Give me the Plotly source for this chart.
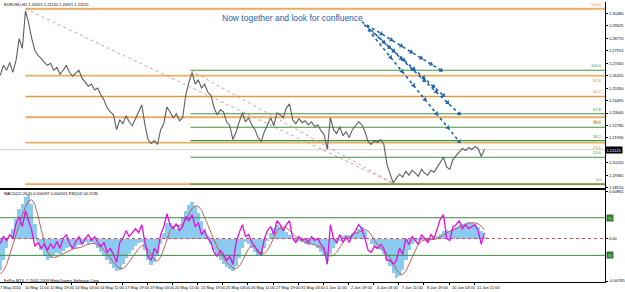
import numpy as np
import plotly.graph_objects as go

# ---------------- data ----------------
# EURUSD H1 close, sampled every 4 bars (bar index = 5 + 4*i)
price = [
    1.2624, 1.2692, 1.2658, 1.2712, 1.2644, 1.2726, 1.2876, 1.2808, 1.3066, 1.2984,
    1.2876, 1.2794, 1.2760, 1.2740, 1.2712, 1.2692, 1.2706, 1.2658, 1.2678, 1.2631,
    1.2658, 1.2692, 1.2644, 1.2617, 1.2638, 1.2658, 1.2604, 1.2576, 1.2549, 1.2563,
    1.2522, 1.2536, 1.2488, 1.2454, 1.2400, 1.2372, 1.2352, 1.2250, 1.2318, 1.2291,
    1.2345, 1.2304, 1.2277, 1.2325, 1.2372, 1.2420, 1.2284, 1.2182, 1.2155, 1.2175,
    1.2148, 1.2250, 1.2291, 1.2406, 1.2372, 1.2332, 1.2359, 1.2311, 1.2332, 1.2488,
    1.2576, 1.2644, 1.2563, 1.2590, 1.2536, 1.2563, 1.2508, 1.2488, 1.2400, 1.2352,
    1.2386, 1.2372, 1.2304, 1.2277, 1.2182, 1.2236, 1.2304, 1.2366, 1.2304, 1.2332,
    1.2284, 1.2250, 1.2196, 1.2168, 1.2236, 1.2284, 1.2332, 1.2277, 1.2366, 1.2352,
    1.2332, 1.2400, 1.2427, 1.2318, 1.2291, 1.2325, 1.2298, 1.2311, 1.2284, 1.2304,
    1.2270, 1.2284, 1.2243, 1.2216, 1.2114, 1.2332, 1.2250, 1.2223, 1.2270, 1.2209,
    1.2236, 1.2196, 1.2250, 1.2277, 1.2304, 1.2284, 1.2236, 1.2168, 1.2148, 1.2175,
    1.2162, 1.2182, 1.2148, 1.2012, 1.1951, 1.1883, 1.1917, 1.1944, 1.1924, 1.1964,
    1.1937, 1.1971, 1.1951, 1.1930, 1.1978, 1.1951, 1.1937, 1.1971, 1.1958, 1.1992,
    1.2032, 1.2060, 1.1992, 1.1978, 1.2046, 1.2073, 1.2100, 1.2121, 1.2107, 1.2128,
    1.2114, 1.2134, 1.2121, 1.2066, 1.2113,
]
macd = [
    -0.00586, -0.00403, -0.00183, 0.00000, 0.00183, 0.00366, 0.00549, 0.00641, 0.00769, 0.00824,
    0.00641, 0.00275, -0.00037, -0.00220, -0.00329, -0.00403, -0.00366, -0.00311, -0.00275, -0.00293,
    -0.00238, -0.00183, -0.00165, -0.00201, -0.00183, -0.00128, -0.00110, -0.00073, -0.00110, -0.00073,
    -0.00110, -0.00183, -0.00256, -0.00329, -0.00403, -0.00476, -0.00549, -0.00604, -0.00586, -0.00476,
    -0.00366, -0.00293, -0.00220, -0.00146, -0.00092, -0.00073, -0.00220, -0.00403, -0.00494, -0.00439,
    -0.00329, -0.00110, 0.00110, 0.00293, 0.00293, 0.00220, 0.00183, 0.00256, 0.00403, 0.00512,
    0.00622, 0.00677, 0.00604, 0.00476, 0.00329, 0.00183, 0.00037, -0.00110, -0.00220, -0.00329,
    -0.00403, -0.00476, -0.00531, -0.00567, -0.00604, -0.00512, -0.00366, -0.00183, -0.00073, -0.00110,
    -0.00183, -0.00256, -0.00311, -0.00329, -0.00183, -0.00037, 0.00110, 0.00201, 0.00256, 0.00220,
    0.00183, 0.00128, 0.00073, 0.00000, -0.00037, -0.00055, -0.00073, -0.00110, -0.00128, -0.00110,
    -0.00128, -0.00183, -0.00256, -0.00329, -0.00421, -0.00293, -0.00183, -0.00110, -0.00037, 0.00037,
    0.00073, 0.00073, 0.00092, 0.00128, 0.00183, 0.00220, 0.00146, 0.00000, -0.00110, -0.00165,
    -0.00201, -0.00220, -0.00293, -0.00403, -0.00512, -0.00641, -0.00732, -0.00695, -0.00586, -0.00403,
    -0.00220, -0.00110, -0.00055, -0.00018, -0.00018, -0.00018, -0.00037, -0.00018, 0.00000, 0.00037,
    0.00092, 0.00146, 0.00165, 0.00146, 0.00183, 0.00220, 0.00256, 0.00275, 0.00293, 0.00311,
    0.00293, 0.00256, 0.00220, 0.00146, 0.00010,
]
signal = [
    -0.00650, -0.00600, -0.00480, -0.00290, -0.00100, 0.00092, 0.00275, 0.00435, 0.00581, 0.00696,
    0.00719, 0.00627, 0.00418, 0.00165, -0.00078, -0.00247, -0.00330, -0.00352, -0.00339, -0.00311,
    -0.00279, -0.00247, -0.00217, -0.00197, -0.00183, -0.00169, -0.00156, -0.00124, -0.00105, -0.00092,
    -0.00092, -0.00119, -0.00156, -0.00220, -0.00293, -0.00366, -0.00439, -0.00508, -0.00554, -0.00554,
    -0.00508, -0.00430, -0.00339, -0.00256, -0.00188, -0.00133, -0.00133, -0.00197, -0.00298, -0.00389,
    -0.00416, -0.00343, -0.00192, -0.00009, 0.00149, 0.00229, 0.00247, 0.00238, 0.00266, 0.00339,
    0.00448, 0.00554, 0.00604, 0.00595, 0.00522, 0.00398, 0.00256, 0.00110, -0.00028, -0.00156,
    -0.00266, -0.00357, -0.00435, -0.00494, -0.00545, -0.00554, -0.00512, -0.00416, -0.00284, -0.00183,
    -0.00137, -0.00156, -0.00215, -0.00270, -0.00270, -0.00215, -0.00110, 0.00023, 0.00133, 0.00197,
    0.00215, 0.00197, 0.00151, 0.00096, 0.00041, -0.00005, -0.00041, -0.00069, -0.00092, -0.00105,
    -0.00119, -0.00137, -0.00169, -0.00224, -0.00297, -0.00325, -0.00307, -0.00252, -0.00156, -0.00073,
    -0.00009, 0.00037, 0.00069, 0.00092, 0.00119, 0.00156, 0.00169, 0.00137, 0.00064, -0.00032,
    -0.00119, -0.00174, -0.00220, -0.00279, -0.00357, -0.00462, -0.00572, -0.00645, -0.00663, -0.00604,
    -0.00476, -0.00330, -0.00197, -0.00101, -0.00050, -0.00027, -0.00023, -0.00023, -0.00018, -0.00005,
    0.00028, 0.00069, 0.00110, 0.00137, 0.00160, 0.00178, 0.00206, 0.00234, 0.00261, 0.00284,
    0.00293, 0.00289, 0.00270, 0.00229, 0.00160,
]
rsi = [
    42.6, 50.0, 45.8, 52.1, 47.9, 63.7, 71.1, 60.5, 77.4, 66.8,
    56.3, 39.5, 43.7, 37.4, 41.6, 35.3, 42.6, 37.4, 44.7, 37.4,
    47.9, 52.1, 42.6, 37.4, 44.7, 50.0, 41.6, 47.9, 52.1, 45.8,
    50.0, 43.7, 39.5, 43.7, 33.2, 37.4, 31.1, 22.6, 43.7, 47.9,
    56.3, 50.0, 54.2, 58.4, 54.2, 62.6, 43.7, 28.9, 24.7, 37.4,
    32.1, 52.1, 60.5, 74.2, 62.6, 58.4, 63.7, 56.3, 60.5, 71.1,
    66.8, 73.2, 60.5, 64.7, 52.1, 56.3, 47.9, 43.7, 33.2, 28.9,
    35.3, 31.1, 24.7, 28.9, 20.5, 43.7, 54.2, 62.6, 50.0, 52.1,
    43.7, 39.5, 33.2, 31.1, 47.9, 56.3, 60.5, 52.1, 66.8, 62.6,
    56.3, 62.6, 66.8, 47.9, 43.7, 50.0, 45.8, 47.9, 43.7, 50.0,
    45.8, 47.9, 41.6, 37.4, 20.5, 62.6, 47.9, 43.7, 52.1, 43.7,
    50.0, 43.7, 52.1, 56.3, 62.6, 58.4, 47.9, 35.3, 33.2, 39.5,
    37.4, 41.6, 37.4, 24.7, 24.7, 20.5, 24.7, 37.4, 31.1, 47.9,
    41.6, 50.0, 45.8, 41.6, 52.1, 47.9, 43.7, 52.1, 47.9, 58.4,
    68.9, 73.2, 47.9, 45.8, 60.5, 62.6, 66.8, 58.4, 62.6, 58.4,
    60.5, 62.6, 56.3, 41.6, 54.2,
]
time_labels = [
    "7 May 2010", "10 May 11:00", "11 May 19:00", "13 May 03:00", "14 May 11:00",
    "17 May 19:00", "19 May 03:00", "20 May 11:00", "21 May 19:00", "25 May 03:00",
    "26 May 11:00", "27 May 19:00", "31 May 03:00", "1 Jun 11:00", "2 Jun 19:00",
    "4 Jun 03:00", "7 Jun 11:00", "8 Jun 19:00", "10 Jun 03:00", "11 Jun 11:00",
]
price_ticks = [1.18510, 1.19365, 1.20220, 1.21930, 1.22785, 1.23640, 1.24495,
               1.25350, 1.26205, 1.27060, 1.27915, 1.28770, 1.29625, 1.30480]
current_price = 1.21125
fib_ratios = [1.0, 0.618, 0.5, 0.382, 0.236, 0.0]
fib_names = ["100.0", "61.8", "50.0", "38.2", "23.6", "0.0"]
fib1_high, fib1_bar = 1.3080, 37      # orange fib anchor (10 May high)
fib2_high, fib2_bar = 1.2658, 247     # green fib anchor (21 May high)
fib_low, fib_low_bar = 1.1876, 507    # common low (7 Jun)
rsi_levels = [70, 30]
# confluence arrows (bar, price) start -> end
arrow_x0 = [465, 468, 471, 473]
arrow_y0 = [1.2991, 1.2971, 1.2964, 1.2937]
arrow_x1 = [566, 569, 589, 589]
arrow_y1 = [1.2658, 1.2485, 1.2359, 1.2168]

# ---------------- layout geometry ----------------
W, H = 625, 292
XR = [4.6, 774.6]
XD = [0, 610 / W]
def py(p):
    return 1 - p / H

px_per_price = 1 / 0.00068
macd_px = 5468.0
bars = [5 + 4 * i for i in range(len(price))]
tick_bars = [32 * k for k in range(len(time_labels))]

fig = go.Figure()

# current price line
fig.add_trace(go.Scatter(x=XR, y=[current_price, current_price], mode="lines",
                         line=dict(color="#cfcfcf", width=1), hoverinfo="skip",
                         xaxis="x", yaxis="y"))

# fib levels
ORANGE = "#dc9a48"
GREEN = "#3f9440"
for hi, bar0, col in [(fib1_high, fib1_bar, ORANGE), (fib2_high, fib2_bar, GREEN)]:
    for r in fib_ratios:
        lv = fib_low + r * (hi - fib_low)
        if col == ORANGE:
            fig.add_trace(go.Scatter(x=[bar0, XR[1]], y=[lv, lv], mode="lines",
                                     line=dict(color="rgba(246,214,160,0.55)", width=3),
                                     hoverinfo="skip", xaxis="x", yaxis="y"))
        fig.add_trace(go.Scatter(x=[bar0, XR[1]], y=[lv, lv], mode="lines",
                                 line=dict(color=col, width=1.1),
                                 hoverinfo="skip", xaxis="x", yaxis="y"))
    # dotted diagonal connecting anchors
    fig.add_trace(go.Scatter(x=[bar0, fib_low_bar], y=[hi, fib_low], mode="lines",
                             line=dict(color="#dc9c9c", width=1, dash="dot"),
                             hoverinfo="skip", xaxis="x", yaxis="y"))

# price line
fig.add_trace(go.Scatter(x=bars, y=price, mode="lines",
                         line=dict(color="#5e5e5e", width=1.1),
                         hoverinfo="skip", xaxis="x", yaxis="y"))

# arrows
BLUE = "#1d63a8"
for xa, ya, xb, yb in zip(arrow_x0, arrow_y0, arrow_x1, arrow_y1):
    fig.add_trace(go.Scatter(x=[xa, xb], y=[ya, yb], mode="lines",
                             line=dict(color=BLUE, width=1.6, dash="dot"),
                             hoverinfo="skip", xaxis="x", yaxis="y"))
    n = 8
    t = np.linspace(0.12, 1.0, n)
    fig.add_trace(go.Scatter(x=xa + t * (xb - xa), y=ya + t * (yb - ya), mode="markers",
                             marker=dict(symbol="triangle-up", size=4.5, color=BLUE,
                                         angleref="previous"),
                             hoverinfo="skip", xaxis="x", yaxis="y"))

# ---- indicator window ----
fig.add_trace(go.Bar(x=bars, y=macd, width=4.4,
                     marker=dict(color="#8ccbf0", line=dict(width=0)),
                     hoverinfo="skip", xaxis="x2", yaxis="y2"))
fig.add_trace(go.Scatter(x=XR, y=[0, 0], mode="lines",
                         line=dict(color="#c05050", width=1, dash="dot"),
                         hoverinfo="skip", xaxis="x2", yaxis="y2"))
fig.add_trace(go.Scatter(x=bars, y=signal, mode="lines",
                         line=dict(color="#c0504a", width=0.9),
                         hoverinfo="skip", xaxis="x2", yaxis="y2"))
for lv in rsi_levels:
    fig.add_trace(go.Scatter(x=XR, y=[lv, lv], mode="lines",
                             line=dict(color="#3d8a3d", width=1),
                             hoverinfo="skip", xaxis="x2", yaxis="y3"))
fig.add_trace(go.Scatter(x=bars, y=rsi, mode="lines",
                         line=dict(color="#e010e0", width=1.3),
                         hoverinfo="skip", xaxis="x2", yaxis="y3"))

FONT = "Arial, Liberation Sans, sans-serif"
annotations = []
# fib labels (a label that would collide with one just above it is set below its line)
placed = []
for hi, col in [(fib2_high, GREEN), (fib1_high, "#d08a30")]:
    for r, name in zip(fib_ratios, fib_names):
        lv = fib_low + r * (hi - fib_low)
        if r == 0.0 and col != GREEN:
            continue  # both 0.0 levels coincide; one label is shown
        clash = any(0 < (lv - p) * px_per_price < 6 or 0 < (p - lv) * px_per_price < 6
                    for p in placed)
        placed.append(lv)
        annotations.append(dict(x=XD[1] - 1.5 / W, xref="paper", y=lv, yref="y",
                                text=name, showarrow=False, xanchor="right",
                                yanchor="top" if clash else "bottom",
                                font=dict(size=4, color=col, family=FONT)))
# header texts
annotations.append(dict(x=2 / W, y=py(4), xref="paper", yref="paper", xanchor="left",
                        yanchor="middle", showarrow=False,
                        text="EURUSD,H1 1.20921 1.21130 1.20911 1.21125",
                        font=dict(size=4, color="black", family=FONT)))
annotations.append(dict(x=2 / W, y=py(195), xref="paper", yref="paper", xanchor="left",
                        yanchor="middle", showarrow=False,
                        text="MACD(12,26,9) 0.000097 0.000561 RSI(14) 54.2236",
                        font=dict(size=4, color="black", family=FONT)))
annotations.append(dict(x=2 / W, y=py(282), xref="paper", yref="paper", xanchor="left",
                        yanchor="middle", showarrow=False,
                        text="FxPro MT4, © 2001-2009 MetaQuotes Software Corp.",
                        font=dict(size=4, color="black", family=FONT)))
annotations.append(dict(x=222 / W, y=py(17), xref="paper", yref="paper", xanchor="left",
                        yanchor="middle", showarrow=False,
                        text="Now together and look for confluence",
                        font=dict(size=8.5, color=BLUE, family=FONT)))
# time labels
for k, (tb, lab) in enumerate(zip(tick_bars, time_labels)):
    annotations.append(dict(x=max(tb, XR[0]), xref="x2", y=py(289), yref="paper",
                            xanchor="left", yanchor="middle", showarrow=False, text=lab,
                            xshift=1 if k else -2,
                            font=dict(size=4, color="black", family=FONT)))
# current price box
annotations.append(dict(x=XD[1], xref="paper", y=current_price, yref="y", xanchor="left",
                        yanchor="middle", showarrow=False, text="1.21125",
                        bgcolor="black", borderpad=0.5,
                        font=dict(size=4, color="white", family=FONT)))
# RSI level boxes
for lv in rsi_levels:
    annotations.append(dict(x=XD[1] + 1 / W, xref="paper", y=lv, yref="y3", xanchor="left",
                            yanchor="middle", showarrow=False, text=str(lv),
                            bgcolor="#2f7a2f", borderpad=0.5,
                            font=dict(size=4, color="#b8e0b8", family=FONT)))

main_dom = [py(189), py(1)]
ind_dom = [py(284), py(191)]

fig.update_layout(
    width=W, height=H, margin=dict(l=0, r=0, t=0, b=0),
    paper_bgcolor="white", plot_bgcolor="white", showlegend=False,
    bargap=0,
    xaxis=dict(domain=XD, range=XR, anchor="y", showticklabels=False, showgrid=False,
               zeroline=False, showline=True, linecolor="black", linewidth=1, ticks=""),
    yaxis=dict(domain=main_dom,
               range=[fib_low - 4 / px_per_price, fib_low + 184 / px_per_price],
               side="right", anchor="x", showgrid=False, zeroline=False,
               showline=True, linecolor="black", linewidth=1,
               tickvals=price_ticks, ticktext=[f"{v:.5f}" for v in price_ticks],
               ticks="outside", ticklen=2, tickcolor="black",
               tickfont=dict(size=4, color="black", family=FONT)),
    xaxis2=dict(domain=XD, range=XR, anchor="y2", showgrid=False, zeroline=False,
                showline=True, mirror=True, linecolor="black", linewidth=1,
                tickvals=tick_bars, ticktext=[""] * len(tick_bars),
                ticks="outside", ticklen=2, tickcolor="black"),
    yaxis2=dict(domain=ind_dom, range=[-44 / macd_px, 49 / macd_px], side="right",
                anchor="x2", showgrid=False, zeroline=False, showline=True,
                linecolor="black", linewidth=1,
                tickvals=[0.00861, 0.0, -0.00785], ticktext=["0.00861", "0.00", "-0.00785"],
                ticks="outside", ticklen=2, tickcolor="black",
                tickfont=dict(size=4, color="black", family=FONT)),
    yaxis3=dict(overlaying="y2", range=[50 - 46 / 0.95, 50 + 47 / 0.95], visible=False,
                anchor="x2"),
    annotations=annotations,
)

fig.write_html("out.html")
